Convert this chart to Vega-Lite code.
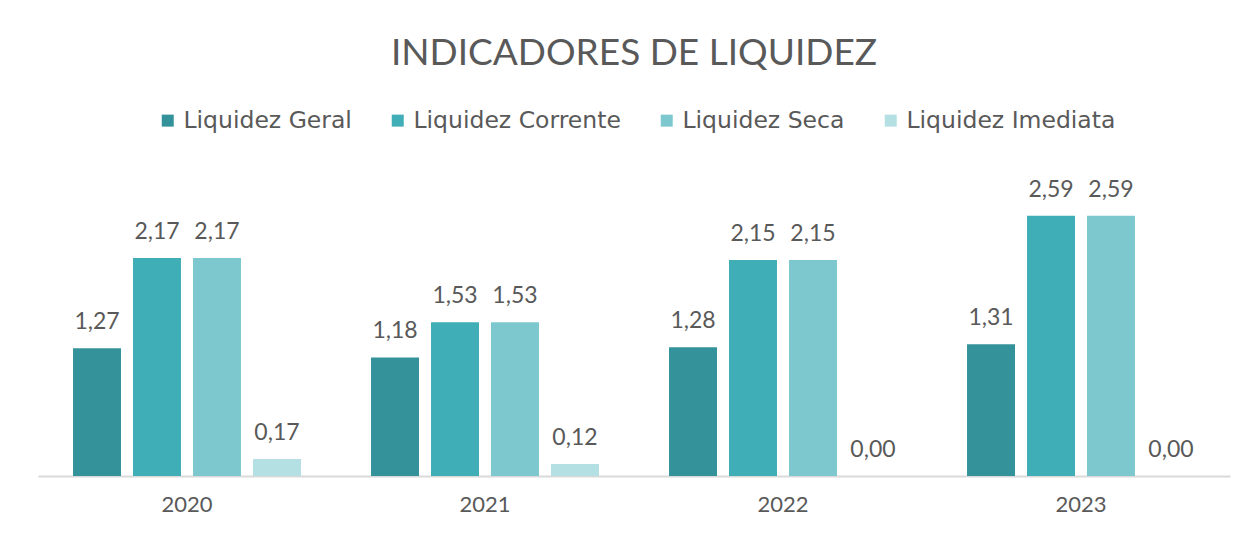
{
  "$schema": "https://vega.github.io/schema/vega-lite/v6.json",
  "autosize": {"type": "none"},
  "width": 1192,
  "height": 301.5,
  "padding": {"left": 38, "top": 174.5, "right": 20, "bottom": 59},
  "background": "white",
  "config": {
    "locale": {"number": {"decimal": ",", "thousands": ".", "grouping": [3], "currency": ["R$", ""]}},
    "view": {"stroke": null},
    "font": "Lato"
  },
  "title": {
    "text": "INDICADORES DE LIQUIDEZ",
    "fontSize": 37,
    "fontWeight": "normal",
    "color": "#595959",
    "font": "Lato",
    "anchor": "middle",
    "offset": 36
  },
  "data": {
    "values": [
      {"ano": "2020", "indicador": "Liquidez Geral", "valor": 1.27},
      {"ano": "2020", "indicador": "Liquidez Corrente", "valor": 2.17},
      {"ano": "2020", "indicador": "Liquidez Seca", "valor": 2.17},
      {"ano": "2020", "indicador": "Liquidez Imediata", "valor": 0.17},
      {"ano": "2021", "indicador": "Liquidez Geral", "valor": 1.18},
      {"ano": "2021", "indicador": "Liquidez Corrente", "valor": 1.53},
      {"ano": "2021", "indicador": "Liquidez Seca", "valor": 1.53},
      {"ano": "2021", "indicador": "Liquidez Imediata", "valor": 0.12},
      {"ano": "2022", "indicador": "Liquidez Geral", "valor": 1.28},
      {"ano": "2022", "indicador": "Liquidez Corrente", "valor": 2.15},
      {"ano": "2022", "indicador": "Liquidez Seca", "valor": 2.15},
      {"ano": "2022", "indicador": "Liquidez Imediata", "valor": 0.0},
      {"ano": "2023", "indicador": "Liquidez Geral", "valor": 1.31},
      {"ano": "2023", "indicador": "Liquidez Corrente", "valor": 2.59},
      {"ano": "2023", "indicador": "Liquidez Seca", "valor": 2.59},
      {"ano": "2023", "indicador": "Liquidez Imediata", "valor": 0.0}
    ]
  },
  "encoding": {
    "x": {
      "field": "ano",
      "type": "nominal",
      "scale": {"paddingInner": 0.235, "paddingOuter": 0.1175},
      "axis": {
        "title": null,
        "labelAngle": 0,
        "labelFont": "Lato",
        "labelFontSize": 22,
        "labelColor": "#595959",
        "labelPadding": 18,
        "ticks": false,
        "domainColor": "#D9D9D9",
        "domainWidth": 2
      }
    },
    "xOffset": {
      "field": "indicador",
      "type": "nominal",
      "sort": ["Liquidez Geral", "Liquidez Corrente", "Liquidez Seca", "Liquidez Imediata"],
      "scale": {"paddingInner": 0.2, "paddingOuter": 0}
    },
    "y": {
      "field": "valor",
      "type": "quantitative",
      "scale": {"domain": [0, 3]},
      "axis": null
    }
  },
  "layer": [
    {
      "mark": {"type": "bar"},
      "encoding": {
        "color": {
          "field": "indicador",
          "type": "nominal",
          "sort": ["Liquidez Geral", "Liquidez Corrente", "Liquidez Seca", "Liquidez Imediata"],
          "scale": {
            "domain": ["Liquidez Geral", "Liquidez Corrente", "Liquidez Seca", "Liquidez Imediata"],
            "range": ["#34939A", "#40AEB6", "#7DC8CF", "#B4DFE3"]
          },
          "legend": {
            "title": null,
            "orient": "none",
            "legendX": 118,
            "legendY": -66,
            "padding": 0,
            "direction": "horizontal",
            "symbolType": "square",
            "symbolSize": 144,
            "symbolStrokeWidth": 0,
            "labelFont": "DejaVu Sans",
            "labelFontSize": 23.5,
            "labelColor": "#595959",
            "labelOffset": 4,
            "columnPadding": 34,
            "labelLimit": 400
          }
        }
      }
    },
    {
      "mark": {"type": "text", "baseline": "bottom", "dy": -14, "fontSize": 23, "color": "#595959", "font": "Lato"},
      "encoding": {
        "text": {"field": "valor", "type": "quantitative", "format": ".2f"}
      }
    }
  ]
}
